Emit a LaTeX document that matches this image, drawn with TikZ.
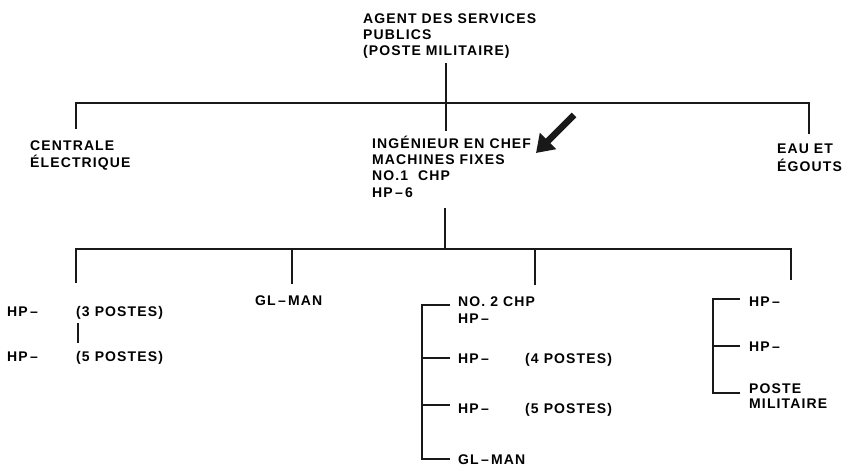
\documentclass[tikz,border=0pt]{standalone}
\usepackage{fontspec}
\setmainfont{Liberation Sans}[LetterSpace=8]
\usetikzlibrary{arrows.meta}
\tikzset{
  lbl/.style={anchor=base west, inner sep=0pt, align=left, font=\bfseries\fontsize{14}{16.3}\selectfont},
  lbltop/.style={lbl, font=\bfseries\fontsize{14}{16}\selectfont},
  lbleau/.style={lbl, font=\bfseries\fontsize{14}{18}\selectfont},
  lblr/.style={lbl, font=\bfseries\fontsize{14}{15}\selectfont},
  ln/.style={line width=1.6pt, draw=black!90},
}
\begin{document}
\begin{tikzpicture}[x=1pt,y=-1pt]
\useasboundingbox (0,0) rectangle (849,471);
% top level (multi-line nodes: base = last line's baseline)
\node[lbltop] (agent) at (363,55) {AGENT DES SERVICES\\PUBLICS\\(POSTE MILITAIRE)};
\node[lbl] (cent) at (30,167) {CENTRALE\\ÉLECTRIQUE};
\node[lbl] (ing) at (372,197) {INGÉNIEUR EN CHEF\\MACHINES FIXES\\NO.1\ \ CHP\\HP\,–\,6};
\node[lbleau] (eau) at (777,171) {EAU ET\\ÉGOUTS};
% lower level
\node[lbl] (hp1) at (7,316) {HP\,–};
\node[lbl] (p3) at (76,316) {(3 POSTES)};
\node[lbl] (hp2) at (7,361) {HP\,–};
\node[lbl] (p5) at (76,361) {(5 POSTES)};
\node[lbl] (gl1) at (255,305) {GL\,–\,MAN};
\node[lbl] (no2) at (458,323) {NO. 2 CHP\\HP\,–};
\node[lbl] (hp3) at (458,363) {HP\,–};
\node[lbl] (p4) at (525,363) {(4 POSTES)};
\node[lbl] (hp4) at (458,413) {HP\,–};
\node[lbl] (p5b) at (525,413) {(5 POSTES)};
\node[lbl] (gl2) at (458,464) {GL\,–\,MAN};
\node[lblr] (hp5) at (749,306) {HP\,–};
\node[lblr] (hp6) at (749,351) {HP\,–};
\node[lblr] (pm) at (749,408) {POSTE\\MILITAIRE};
% coordinates
\coordinate (a1) at (446,63);
\coordinate (a2) at (446,131);
\coordinate (h1l) at (76,103);
\coordinate (h1r) at (809,103);
\coordinate (d1) at (76,129);
\coordinate (d2) at (809,134);
\coordinate (b1) at (445,208);
\coordinate (h2m) at (445,249);
\coordinate (h2l) at (76,249);
\coordinate (h2r) at (791,249);
\coordinate (e1) at (76,283);
\coordinate (e2) at (292,284);
\coordinate (e2t) at (292,249);
\coordinate (e3) at (535,285);
\coordinate (e3t) at (535,249);
\coordinate (e4) at (791,280);
\coordinate (v1) at (78,323);
\coordinate (v2) at (78,343);
\coordinate (m0) at (422,305);
\coordinate (m1) at (422,358);
\coordinate (m2) at (422,405);
\coordinate (m3) at (422,459);
\coordinate (r0) at (713,299);
\coordinate (r1) at (713,346);
\coordinate (r2) at (713,393);
% connectors
\draw[ln] (a1) -- (a2);
\draw[ln] (d1) -- (h1l) -- (h1r) -- (d2);
\draw[ln] (b1) -- (h2m);
\draw[ln] (e1) -- (h2l) -- (h2r) -- (e4);
\draw[ln] (e2t) -- (e2);
\draw[ln] (e3t) -- (e3);
\draw[ln] (v1) -- (v2);
\draw[ln] ([xshift=28pt]m0) -- (m0) -- (m3) -- ([xshift=28pt]m3);
\draw[ln] (m1) -- ([xshift=28pt]m1);
\draw[ln] (m2) -- ([xshift=28pt]m2);
\draw[ln] ([xshift=27pt]r0) -- (r0) -- (r2) -- ([xshift=27pt]r2);
\draw[ln] (r1) -- ([xshift=27pt]r1);
% arrow
\coordinate (arT) at (574,115);
\coordinate (arH) at (536,153);
\draw[line width=6.5pt, black!90, -{Triangle[length=17pt,width=22pt]}] (arT) -- (arH);
\end{tikzpicture}
\end{document}
